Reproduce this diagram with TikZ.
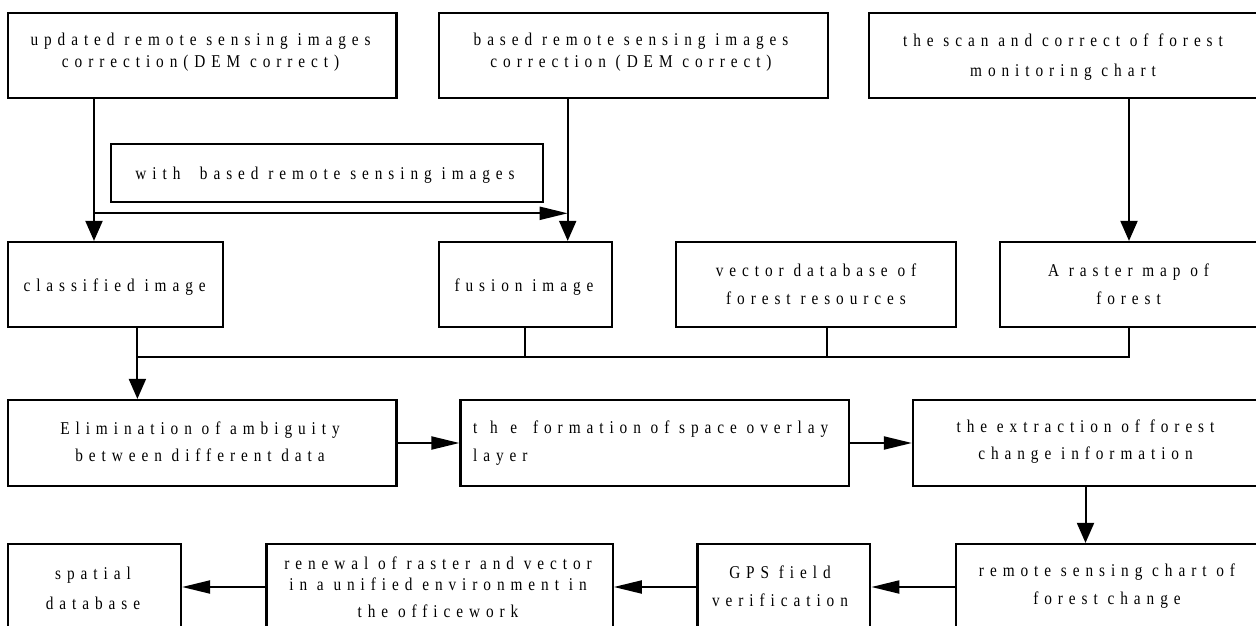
\documentclass[tikz,border=0pt]{standalone}
\usepackage{fontspec}
\setmainfont{Liberation Serif}[LetterSpace=33,FakeStretch=0.85]
\usetikzlibrary{arrows.meta}
\tikzset{
  box/.style={draw, line width=2.2pt, rectangle, inner sep=0pt},
  lbl/.style={align=center, inner sep=0pt, font=\fontsize{18}{25}\selectfont},
  conn/.style={line width=2pt},
  harrow/.style={conn, -{Triangle[length=28pt,width=13pt]}},
  varrow/.style={conn, -{Triangle[length=20pt,width=17pt]}},
}
\begin{document}
\begin{tikzpicture}[x=1pt,y=-1pt]
\clip (0,0) rectangle (1256,626);
\fill[white] (0,0) rectangle (1256,626);

% boxes
\node[box, minimum width=388.5pt, minimum height=85.6pt] (A) at (202.25,55.5) {};
\node[box, minimum width=389.3pt, minimum height=85.6pt] (B) at (633.35,55.5) {};
\node[box, minimum width=389pt, minimum height=85.6pt] (C) at (1063.5,55.5) {};
\node[box, minimum width=432pt, minimum height=57.7pt] (W) at (327,172.85) {};
\node[box, minimum width=215pt, minimum height=85.3pt] (cls) at (115.5,284.65) {};
\node[box, minimum width=173.3pt, minimum height=85.3pt] (fus) at (525.35,284.65) {};
\node[box, minimum width=280.3pt, minimum height=85.3pt] (vec) at (816.15,284.65) {};
\node[box, minimum width=258.3pt, minimum height=85.3pt] (ras) at (1128.85,284.65) {};
\node[box, minimum width=388.5pt, minimum height=86pt] (elim) at (202.25,443) {};
\node[box, minimum width=388.5pt, minimum height=86pt] (form) at (654.75,443) {};
\node[box, minimum width=345pt, minimum height=86pt] (ext) at (1085.5,443) {};
\node[box, minimum width=173pt, minimum height=86pt] (spa) at (94.5,587) {};
\node[box, minimum width=346.3pt, minimum height=86pt] (ren) at (439.55,587) {};
\node[box, minimum width=172.8pt, minimum height=86pt] (gps) at (783.9,587) {};
\node[box, minimum width=302pt, minimum height=86pt] (rem) at (1107,587) {};

% texts
\node[lbl, font=\fontsize{18}{22}\selectfont] (tA) at (200.6,52.5) {updated remote sensing images\\correction(DEM correct)};
\node[lbl, font=\fontsize{18}{22}\selectfont] (tB) at (631,52.5) {based remote sensing images\\correction (DEM correct)};
\node[lbl, font=\fontsize{18}{30}\selectfont] (tC) at (1063,57) {the scan and correct of forest\\monitoring chart};
\node[lbl] (tW) at (325,175) {with \ based remote sensing images};
\node[lbl] (tcls) at (114.6,286.7) {classified image};
\node[lbl] (tfus) at (524,286.7) {fusion image};
\node[lbl, font=\fontsize{18}{28}\selectfont] (tvec) at (816,284) {vector database of\\forest resources};
\node[lbl, font=\fontsize{18}{28}\selectfont] (tras) at (1128.6,284) {A raster map of\\forest};
\node[lbl, font=\fontsize{18}{27}\selectfont] (telim) at (200,441.5) {Elimination of ambiguity\\between different data};
\node[lbl, align=left, anchor=west, font=\fontsize{18}{28}\selectfont] (tform) at (473,443) {{\addfontfeature{LetterSpace=70}the}\hspace{16pt}formation of space overlay\\layer};
\node[lbl, font=\fontsize{18}{27}\selectfont] (text) at (1085.5,441.5) {the extraction of forest\\change information};
\node[lbl, font=\fontsize{18}{30}\selectfont] (tspa) at (93,588) {spatial\\database};
\node[lbl, font=\fontsize{18}{21}\selectfont] (tren) at (438,587) {renewal of raster and vector\\in a unified environment in\\[6pt]the officework};
\node[lbl, font=\fontsize{18}{28}\selectfont] (tgps) at (780,586) {GPS field\\verification};
\node[lbl, font=\fontsize{18}{28}\selectfont] (trem) at (1107,586) {remote sensing chart of\\forest change};

% helper coordinates
\coordinate (xA) at (94,0);
\coordinate (xB) at (567.7,0);
\coordinate (xC) at (1129,0);
\coordinate (xcls) at (137.4,0);
\coordinate (xfus) at (525,0);
\coordinate (xvec) at (827.3,0);
\coordinate (j1) at (94,213.3);
\coordinate (bus) at (0,356.7);

% connectors top
\draw[varrow] (A.south -| xA) -- (cls.north -| xA);
\draw[harrow] (j1) -- (j1 -| xB);
\draw[varrow] (B.south -| xB) -- (fus.north -| xB);
\draw[varrow] (C.south -| xC) -- (ras.north -| xC);

% bus
\draw[conn] (ras.south -| xC) -- (bus -| xC) -- (bus -| xcls);
\draw[conn] (cls.south -| xcls) -- (bus -| xcls);
\draw[conn] (fus.south -| xfus) -- (bus -| xfus);
\draw[conn] (vec.south -| xvec) -- (bus -| xvec);
\draw[varrow] (bus -| xcls) -- (elim.north -| xcls);

% row 3
\draw[harrow] (elim.east) -- (form.west);
\draw[harrow] (form.east) -- (ext.west);
\draw[varrow] (ext.south) -- (ext.south |- rem.north);

% row 4
\draw[harrow] (rem.west) -- (gps.east);
\draw[harrow] (gps.west) -- (ren.east);
\draw[harrow] (ren.west) -- (spa.east);
\end{tikzpicture}
\end{document}
